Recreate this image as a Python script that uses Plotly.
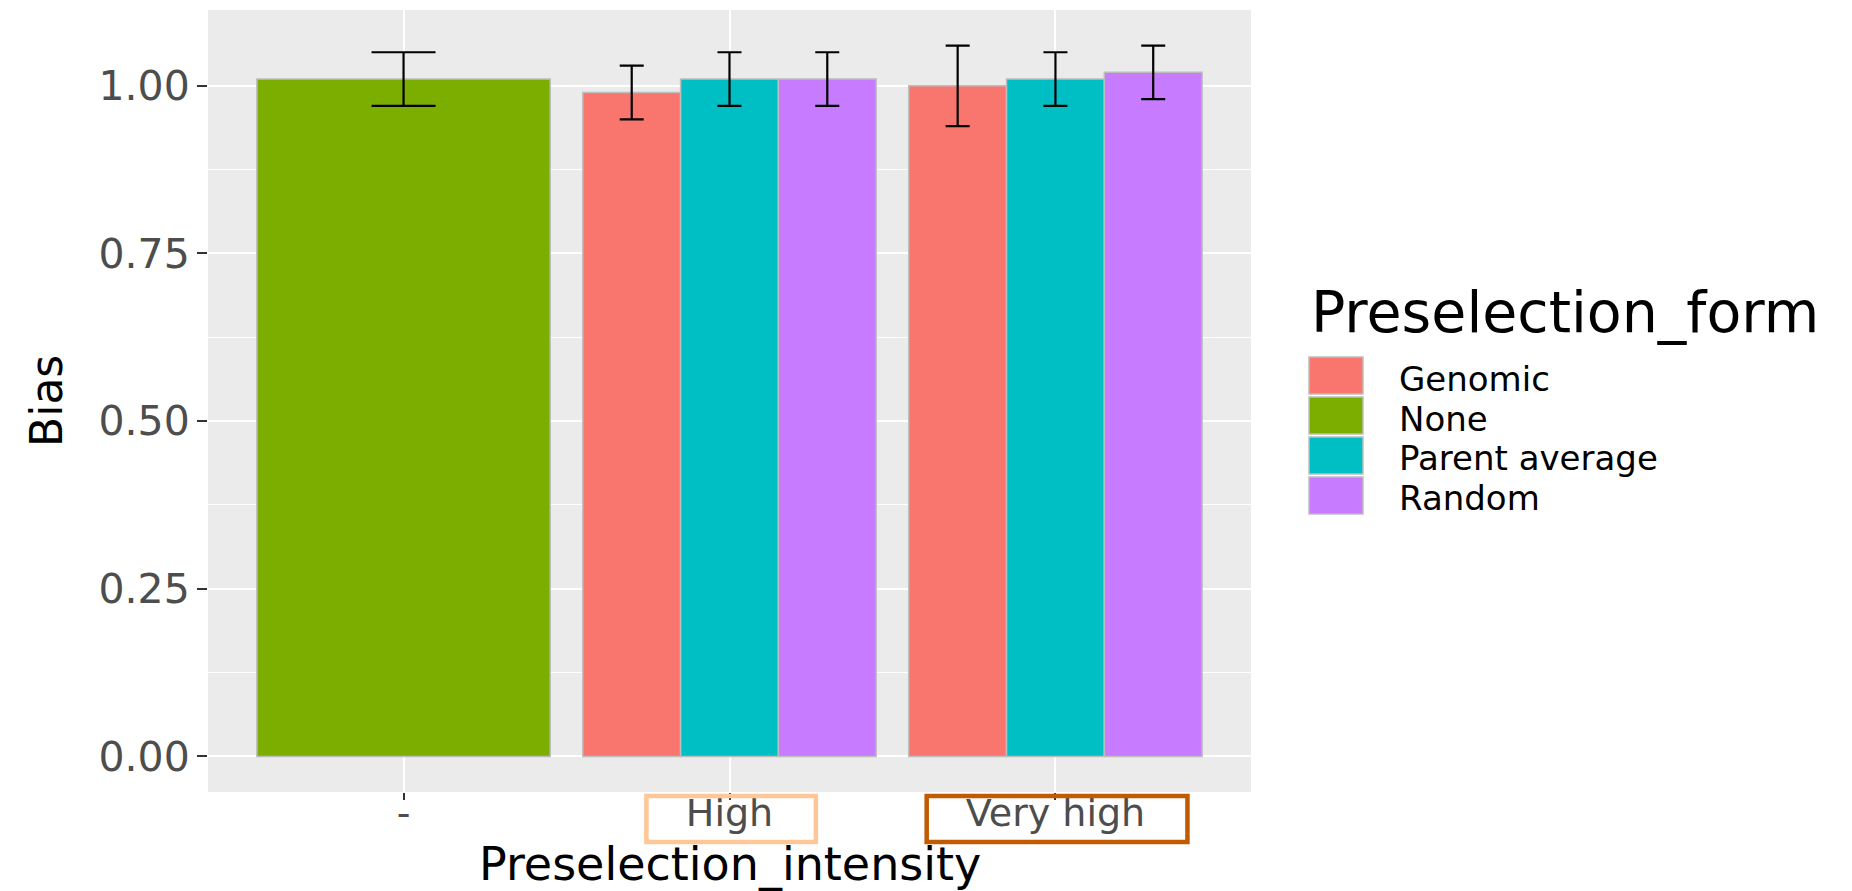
import plotly.graph_objects as go

# ---------------- data ----------------
intensity_levels = ["-", "High", "Very high"]
form_levels = ["Genomic", "None", "Parent average", "Random"]
form_colors = ["#F8766D", "#7CAE00", "#00BFC4", "#C77CFF"]

row_intensity = ["-", "High", "High", "High", "Very high", "Very high", "Very high"]
row_form = ["None", "Genomic", "Parent average", "Random", "Genomic", "Parent average", "Random"]
bias = [1.01, 0.99, 1.01, 1.01, 1.00, 1.01, 1.02]
bias_low = [0.97, 0.95, 0.97, 0.97, 0.94, 0.97, 0.98]
bias_high = [1.05, 1.03, 1.05, 1.05, 1.06, 1.05, 1.06]

y_ticks = [0.0, 0.25, 0.5, 0.75, 1.0]

# ---------------- layout geometry ----------------
# positions are given in page pixels of the 1852x891 window; the page body
# has an 8 px margin, so figure pixels = page pixels - OFF
W, H = 1852, 891
OFF = 8
PG_L, PG_R, PG_T, PG_B = 208, 1251, 10, 792
FL, FR, FT, FB = PG_L - OFF, PG_R - OFF, PG_T - OFF, PG_B - OFF


def px(xpage):
    return (xpage - OFF - FL) / (FR - FL)


def py(ypage):
    return (FB - (ypage - OFF)) / (FB - FT)


FONT = "DejaVu Sans"

# dodge positions (ggplot position_dodge, total width 0.9)
DODGE = 0.9
positions = {}
for i, lev in enumerate(intensity_levels):
    present = [f for f in form_levels
               if any(ri == lev and rf == f for ri, rf in zip(row_intensity, row_form))]
    n = len(present)
    w = DODGE / n
    for k, f in enumerate(present):
        positions[(lev, f)] = (i - DODGE / 2 + w * (k + 0.5), w)

fig = go.Figure()
for f, col in zip(form_levels, form_colors):
    xs, ys, ws, ep, em = [], [], [], [], []
    for ri, rf, b, lo, hi in zip(row_intensity, row_form, bias, bias_low, bias_high):
        if rf != f:
            continue
        xpos, w = positions[(ri, rf)]
        xs.append(xpos)
        ys.append(b)
        ws.append(w)
        ep.append(hi - b)
        em.append(b - lo)
    cap = 32 if f == "None" else 12
    fig.add_trace(go.Bar(
        x=xs, y=ys, width=ws, name=f,
        marker=dict(color=col, line=dict(color="#BDBDBD", width=1.5)),
        error_y=dict(type="data", symmetric=False, array=ep, arrayminus=em,
                     color="black", thickness=2.2, width=cap),
        showlegend=False,
    ))

fig.update_layout(
    width=W, height=H,
    margin=dict(l=FL, r=W - FR, t=FT, b=H - FB, autoexpand=False),
    paper_bgcolor="white",
    plot_bgcolor="#EBEBEB",
    barmode="overlay",
    font=dict(family=FONT, color="black"),
)

fig.update_xaxes(
    range=[-0.6, len(intensity_levels) - 1 + 0.6],
    tickmode="array",
    tickvals=list(range(len(intensity_levels))),
    ticktext=intensity_levels,
    ticks="outside", ticklen=7, tickwidth=1.5, tickcolor="#333333",
    ticklabelstandoff=-20,
    tickfont=dict(family=FONT, size=38, color="#4D4D4D"),
    showgrid=True, gridcolor="white", gridwidth=2,
    zeroline=False, showline=False,
    automargin=False,
)

fig.update_yaxes(
    range=[-0.053, 1.113],
    tickmode="array",
    tickvals=y_ticks,
    ticktext=[f"{v:.2f}" for v in y_ticks],
    ticks="outside", ticklen=10, tickwidth=1.5, tickcolor="#333333",
    ticklabelstandoff=-1,
    tickfont=dict(family=FONT, size=41, color="#4D4D4D"),
    showgrid=True, gridcolor="white", gridwidth=2,
    minor=dict(tickmode="array", tickvals=[0.125, 0.375, 0.625, 0.875, 1.125],
               showgrid=True, gridcolor="white", gridwidth=1, ticks=""),
    zeroline=False, showline=False,
    automargin=False,
)

# axis titles
fig.add_annotation(xref="paper", yref="paper", x=px(729.5), y=py(864),
                   xanchor="center", yanchor="middle", showarrow=False,
                   text="Preselection_intensity",
                   font=dict(family=FONT, size=46, color="black"))
fig.add_annotation(xref="paper", yref="paper", x=px(46), y=py(401),
                   xanchor="center", yanchor="middle", showarrow=False, textangle=-90,
                   text="Bias", font=dict(family=FONT, size=44, color="black"))

# highlight boxes around the x tick labels
box_specs = [("High", 0.26, "#FFC797"), ("Very high", 0.40, "#C05B00")]
for lev, half, col in box_specs:
    c = intensity_levels.index(lev)
    fig.add_shape(type="rect", xref="x", yref="paper",
                  x0=c - half + 0.005, x1=c + half + 0.005,
                  y0=py(796), y1=py(842),
                  line=dict(color=col, width=4.5), fillcolor="rgba(0,0,0,0)", layer="above")

# custom legend (ggplot-style large keys)
fig.add_annotation(xref="paper", yref="paper", x=px(1309), y=py(312),
                   xanchor="left", yanchor="middle", showarrow=False,
                   text="Preselection_form", font=dict(family=FONT, size=57, color="black"))
key_top = 357
key_h = 37
key_pitch = 40
for k, (f, col) in enumerate(zip(form_levels, form_colors)):
    y0 = key_top + k * key_pitch
    fig.add_shape(type="rect", xref="paper", yref="paper",
                  x0=px(1309), x1=px(1363), y0=py(y0), y1=py(y0 + key_h),
                  fillcolor=col, line=dict(color="#BDBDBD", width=1.5))
    fig.add_annotation(xref="paper", yref="paper", x=px(1397), y=py(y0 + key_h / 2 + 3),
                       xanchor="left", yanchor="middle", showarrow=False,
                       text=f, font=dict(family=FONT, size=34, color="black"))

fig.write_html("out.html")
